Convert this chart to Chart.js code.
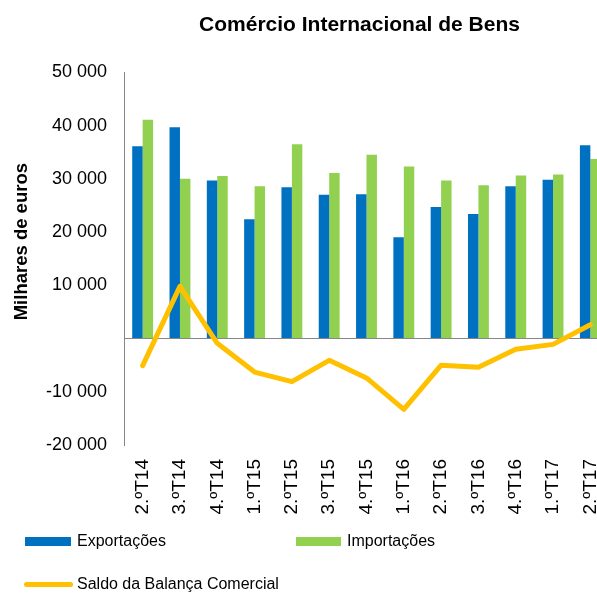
<!DOCTYPE html>
<html>
<head>
<meta charset="utf-8">
<script src="https://cdn.jsdelivr.net/npm/chart.js@4.4.1/dist/chart.umd.min.js"></script>
<style>
  html, body { margin: 0; padding: 0; background: #fff; overflow: hidden; }
  #wrap { position: relative; width: 612px; height: 595px; font-family: "Liberation Sans", Arial, sans-serif; }
  #c { position: absolute; left: 0; top: 0; }
  .lg-item { position: absolute; font-size: 16px; color: #000; line-height: 18px; white-space: nowrap; }
  .lg-swatch { position: absolute; }
</style>
</head>
<body>
<div id="wrap">
  <canvas id="c" width="612" height="595"></canvas>
  <div id="legend"></div>
</div>
<script>
const categories = ["2.ºT14","3.ºT14","4.ºT14","1.ºT15","2.ºT15","3.ºT15","4.ºT15","1.ºT16","2.ºT16","3.ºT16","4.ºT16","1.ºT17","2.ºT17"];
const exportacoes = [36100, 39700, 29700, 22400, 28400, 27000, 27100, 19000, 24700, 23400, 28600, 29800, 36300];
const importacoes = [41100, 30000, 30500, 28600, 36500, 31100, 34500, 32300, 29700, 28800, 30600, 30800, 33700];
const saldo = [-5100, 9800, -900, -6300, -8100, -4100, -7400, -13300, -5000, -5400, -2000, -1100, 2600];
const yTicks = [-20000, -10000, 0, 10000, 20000, 30000, 40000, 50000];

const FONT = "'Liberation Sans', Arial, sans-serif";

function fmt(v) {
  if (v === 0) return '';
  const s = String(Math.abs(v)).replace(/\B(?=(\d{3})+(?!\d))/g, ' ');
  return (v < 0 ? '-' : '') + s;
}

const layoutTweaks = {
  id: 'layoutTweaks',
  afterLayout(chart) {
    const t = chart.titleBlock;
    if (t) { t.left -= 7; t.right -= 7; }
    const y = chart.scales.y;
    if (y && !y._titleWrapped) {
      const orig = y.drawTitle.bind(y);
      y.drawTitle = function () {
        const top = this.top, bottom = this.bottom;
        this.top = top - 17; this.bottom = bottom - 17;
        orig();
        this.top = top; this.bottom = bottom;
      };
      y._titleWrapped = true;
    }
  }
};

const chart = new Chart(document.getElementById('c'), {
  data: {
    labels: categories,
    datasets: [
      { type: 'line', label: 'Saldo da Balança Comercial', data: saldo, borderColor: '#FFC000', backgroundColor: '#FFC000',
        borderWidth: 5, pointRadius: 0, tension: 0, borderJoinStyle: 'round', borderCapStyle: 'round', order: 0 },
      { type: 'bar', label: 'Exportações', data: exportacoes, backgroundColor: '#0070C0', order: 1,
        categoryPercentage: 0.56, barPercentage: 1 },
      { type: 'bar', label: 'Importações', data: importacoes, backgroundColor: '#92D050', order: 1,
        categoryPercentage: 0.56, barPercentage: 1 }
    ]
  },
  options: {
    responsive: false,
    animation: false,
    events: [],
    layout: { padding: { left: 0, right: 3, top: 0, bottom: 0 } },
    plugins: {
      legend: { display: false },
      tooltip: { enabled: false },
      title: {
        display: true,
        text: 'Comércio Internacional de Bens',
        fullSize: false,
        color: '#000',
        font: { family: FONT, size: 21, weight: 'bold', lineHeight: 1.2 },
        padding: { top: 12.4, bottom: 34.7 }
      }
    },
    scales: {
      x: {
        type: 'category',
        grid: { display: false },
        border: { display: false },
        ticks: { color: '#000', font: { family: FONT, size: 19 }, minRotation: 90, maxRotation: 90, autoSkip: false, padding: 6 },
        afterFit(s) { s.height = 150; s.paddingLeft = 0; s.paddingRight = 0; }
      },
      y: {
        min: -20000, max: 50000,
        afterBuildTicks(s) { s.ticks = yTicks.map(v => ({ value: v })); },
        grid: {
          drawTicks: false,
          color: ctx => (ctx.tick && ctx.tick.value === 0) ? '#868686' : 'rgba(0,0,0,0)',
          lineWidth: 1
        },
        border: { display: true, color: '#868686', width: 1 },
        ticks: { color: '#000', font: { family: FONT, size: 18 }, padding: 17, callback: v => fmt(v) },
        title: { display: true, text: 'Milhares de euros', color: '#000', font: { family: FONT, size: 18.5, weight: 'bold' }, padding: { top: 11, bottom: 0 } },
        afterFit(s) { s.width = 124; }
      }
    }
  },
  plugins: [layoutTweaks]
});

// HTML legend built from the chart's datasets
const legendPos = {
  'Exportações': { sx: 25, sy: 537, sw: 46, sh: 9, tx: 77, ty: 532, line: false },
  'Importações': { sx: 296, sy: 537, sw: 45, sh: 9, tx: 347, ty: 532, line: false },
  'Saldo da Balança Comercial': { sx: 24, sy: 582, sw: 49, sh: 5, tx: 77, ty: 575, line: true }
};
const lg = document.getElementById('legend');
chart.data.datasets.forEach(ds => {
  const p = legendPos[ds.label];
  if (!p) return;
  const sw = document.createElement('div');
  sw.className = 'lg-swatch';
  sw.style.cssText = `left:${p.sx}px;top:${p.sy}px;width:${p.sw}px;height:${p.sh}px;background:${ds.backgroundColor};` + (p.line ? 'border-radius:3px;' : '');
  lg.appendChild(sw);
  const tx = document.createElement('div');
  tx.className = 'lg-item';
  tx.style.left = p.tx + 'px';
  tx.style.top = p.ty + 'px';
  tx.textContent = ds.label;
  lg.appendChild(tx);
});
</script>
</body>
</html>
